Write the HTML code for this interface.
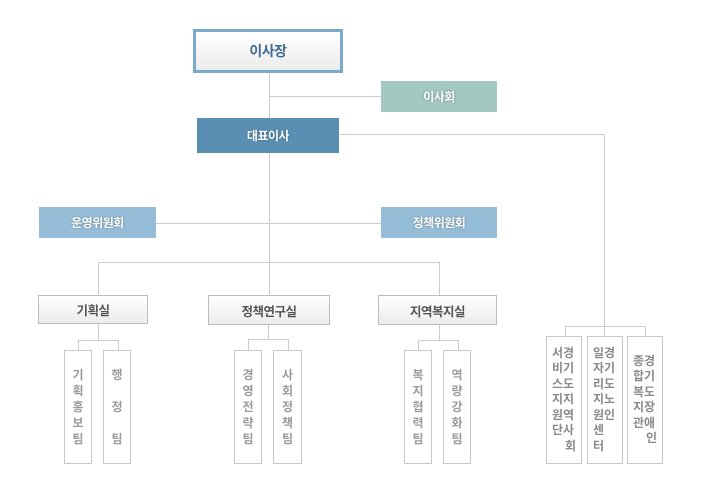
<!DOCTYPE html>
<html>
<head>
<meta charset="utf-8">
<style>
html,body{margin:0;padding:0;background:#fff;}
body{width:707px;height:496px;position:relative;overflow:hidden;font-family:"Liberation Sans","Noto Sans CJK KR",sans-serif;}
.b{position:absolute;box-sizing:border-box;display:flex;align-items:center;justify-content:center;font-weight:bold;font-size:12px;letter-spacing:-0.5px;}
.top{left:193px;top:29px;width:150px;height:44px;border:3px solid #7aaac9;background:linear-gradient(#ffffff,#ebebeb);color:#3d6b91;font-size:14px;}
.col{color:#fff;text-shadow:0 0 2px rgba(0,0,0,0.35);}
.gray{border:1px solid #bdbdbd;background:linear-gradient(#ffffff,#ececec);color:#555;font-size:12.5px;}
.sub{position:absolute;box-sizing:border-box;border:1px solid #c8c8c8;background:#fff;top:350px;height:114px;width:28px;display:flex;flex-direction:column;align-items:center;justify-content:center;color:#9a9a9a;font-weight:bold;font-size:12px;line-height:16px;}
.rb{position:absolute;box-sizing:border-box;border:1px solid #c8c8c8;background:#fff;top:336px;height:128px;width:36px;display:flex;flex-direction:column;align-items:center;justify-content:center;color:#8a8a8a;font-weight:bold;font-size:12px;line-height:15.5px;}
.rb div{width:24px;white-space:nowrap;}
svg{position:absolute;left:0;top:0;}
</style>
</head>
<body>
<svg width="707" height="496" viewBox="0 0 707 496">
<g stroke="#cccccc" stroke-width="1" fill="none" shape-rendering="crispEdges">
<line x1="269.5" y1="73" x2="269.5" y2="118"/>
<line x1="269" y1="96.5" x2="381" y2="96.5"/>
<line x1="269.5" y1="153" x2="269.5" y2="295"/>
<line x1="156" y1="223.5" x2="381" y2="223.5"/>
<line x1="98.5" y1="262.5" x2="439.5" y2="262.5"/>
<line x1="98.5" y1="262" x2="98.5" y2="295"/>
<line x1="439.5" y1="262" x2="439.5" y2="295"/>
<line x1="339" y1="134.5" x2="604.5" y2="134.5"/>
<line x1="604.5" y1="134" x2="604.5" y2="326"/>
<line x1="565.5" y1="326.5" x2="645.5" y2="326.5"/>
<line x1="565.5" y1="326" x2="565.5" y2="336"/>
<line x1="604.5" y1="326" x2="604.5" y2="336"/>
<line x1="645.5" y1="326" x2="645.5" y2="336"/>
<line x1="98.5" y1="324" x2="98.5" y2="340"/>
<line x1="78.5" y1="340.5" x2="118.5" y2="340.5"/>
<line x1="78.5" y1="340" x2="78.5" y2="350"/>
<line x1="118.5" y1="340" x2="118.5" y2="350"/>
<line x1="268.5" y1="325" x2="268.5" y2="340"/>
<line x1="248.5" y1="339.5" x2="288.5" y2="339.5"/>
<line x1="248.5" y1="339" x2="248.5" y2="350"/>
<line x1="288.5" y1="339" x2="288.5" y2="350"/>
<line x1="439.5" y1="325" x2="439.5" y2="340"/>
<line x1="418.5" y1="340.5" x2="458.5" y2="340.5"/>
<line x1="418.5" y1="340" x2="418.5" y2="350"/>
<line x1="458.5" y1="340" x2="458.5" y2="350"/>
</g>
</svg>

<div class="b top">이사장</div>
<div class="b col" style="left:381px;top:81px;width:116px;height:31px;background:#a3c8c2;">이사회</div>
<div class="b col" style="left:197px;top:118px;width:142px;height:35px;background:#5a8fb3;">대표이사</div>
<div class="b col" style="left:39px;top:207px;width:117px;height:31px;background:#96bdd8;">운영위원회</div>
<div class="b col" style="left:381px;top:207px;width:116px;height:31px;background:#96bdd8;">정책위원회</div>

<div class="b gray" style="left:38px;top:295px;width:110px;height:29px;">기획실</div>
<div class="b gray" style="left:208px;top:295px;width:122px;height:30px;">정책연구실</div>
<div class="b gray" style="left:378px;top:295px;width:119px;height:30px;">지역복지실</div>

<div class="sub" style="left:64px;"><div>기</div><div>획</div><div>홍</div><div>보</div><div>팀</div></div>
<div class="sub" style="left:103px;"><div>행</div><div>&nbsp;</div><div>정</div><div>&nbsp;</div><div>팀</div></div>
<div class="sub" style="left:234px;"><div>경</div><div>영</div><div>전</div><div>략</div><div>팀</div></div>
<div class="sub" style="left:273px;width:29px;"><div>사</div><div>회</div><div>정</div><div>책</div><div>팀</div></div>
<div class="sub" style="left:404px;"><div>복</div><div>지</div><div>협</div><div>력</div><div>팀</div></div>
<div class="sub" style="left:443px;"><div>역</div><div>량</div><div>강</div><div>화</div><div>팀</div></div>

<div class="rb" style="left:546px;"><div>서경</div><div>비기</div><div>스도</div><div>지지</div><div>원역</div><div>단사</div><div style="text-align:right;">회</div></div>
<div class="rb" style="left:587px;"><div>일경</div><div>자기</div><div>리도</div><div>지노</div><div>원인</div><div>센</div><div>터</div></div>
<div class="rb" style="left:627px;"><div>종경</div><div>합기</div><div>복도</div><div>지장</div><div>관애</div><div style="text-align:right;">인</div></div>
</body>
</html>
